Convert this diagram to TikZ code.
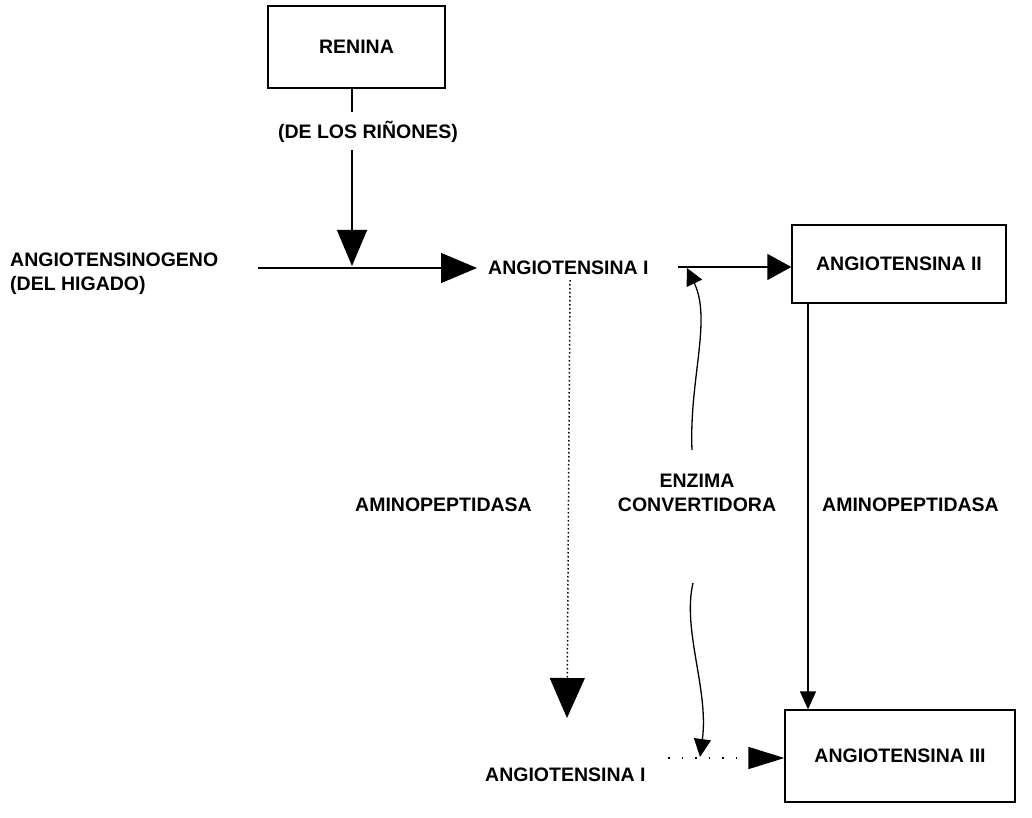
\documentclass[tikz,border=0pt]{standalone}
\usepackage{fontspec}
\setmainfont{Liberation Sans}
\usetikzlibrary{arrows.meta}
\begin{document}
\begin{tikzpicture}[x=1pt,y=-1pt,
  every node/.style={font=\fontsize{19.5}{24}\selectfont\bfseries, inner sep=0pt},
  box/.style={draw, line width=1.3pt},
  conn/.style={line width=1.3pt},
  bigtip/.style={-{Triangle[length=36pt,width=30pt]}},
  dotv/.style={line width=1.5pt, dash pattern=on 1.5pt off 2.5pt},
  doth/.style={line width=1.5pt, dash pattern=on 1.5pt off 12pt}]
\useasboundingbox (0,0) rectangle (1032,818);
\fill[white] (0,0) rectangle (1032,818);
% nodes
\node[box, minimum width=177pt, minimum height=82pt] (renina) at (356.5,47) {RENINA};
\node (rinones) at (368,132) {(DE LOS RIÑONES)};
\node[anchor=west, align=left] (agn) at (10,274) {ANGIOTENSINOGENO\\(DEL HIGADO)};
\node[anchor=west] (a1) at (488,268) {ANGIOTENSINA I};
\node[box, minimum width=214pt, minimum height=78pt] (a2) at (899,264) {ANGIOTENSINA II};
\node[box, minimum width=230pt, minimum height=92pt] (a3) at (900,756) {ANGIOTENSINA III};
\node[anchor=west] (amr) at (822,505) {AMINOPEPTIDASA};
\node[anchor=west] (aml) at (355,505) {AMINOPEPTIDASA};
\node[align=center] (enz) at (697,493) {ENZIMA\\CONVERTIDORA};
\node[anchor=west] (a1b) at (485,775) {ANGIOTENSINA I};
% coordinates
\coordinate (j) at (352,266);
\coordinate (h0) at (258,268);
\coordinate (h1) at (477,268);
\coordinate (l0) at (678,267);
\coordinate (up0) at (692,450);
\coordinate (up1) at (687,268);
\coordinate (dn0) at (693,583);
\coordinate (dn1) at (700,757);
\coordinate (dv0) at (570,280);
\coordinate (dv1) at (567,718);
\coordinate (dh0) at (668,758);
% connectors
\draw[conn] (renina.south -| j) -- ([yshift=9pt]rinones.north -| j);
\draw[conn, bigtip] ([yshift=-7pt]rinones.south -| j) -- (j);
\draw[conn, bigtip] (h0) -- (h1);
\draw[conn, -{Triangle[length=24pt,width=26pt]}] (l0) -- (a2.west |- l0);
\draw[conn, -{Triangle[length=18pt,width=16pt]}] (a2.south -| 808,0) -- (a3.north -| 808,0);
\draw[conn, -{Triangle[length=17pt,width=17pt]}] (up0) .. controls (689,380) and (712,320) .. (up1);
\draw[conn, -{Triangle[length=18pt,width=17pt]}] (dn0) .. controls (682,630) and (709,690) .. (dn1);
\draw[dotv, -{Triangle[length=40pt,width=35pt,line width=1pt]}] (dv0) -- (dv1);
\draw[doth, -{Triangle[length=36pt,width=22pt]}] (dh0) -- (a3.west |- dh0);
\end{tikzpicture}
\end{document}
